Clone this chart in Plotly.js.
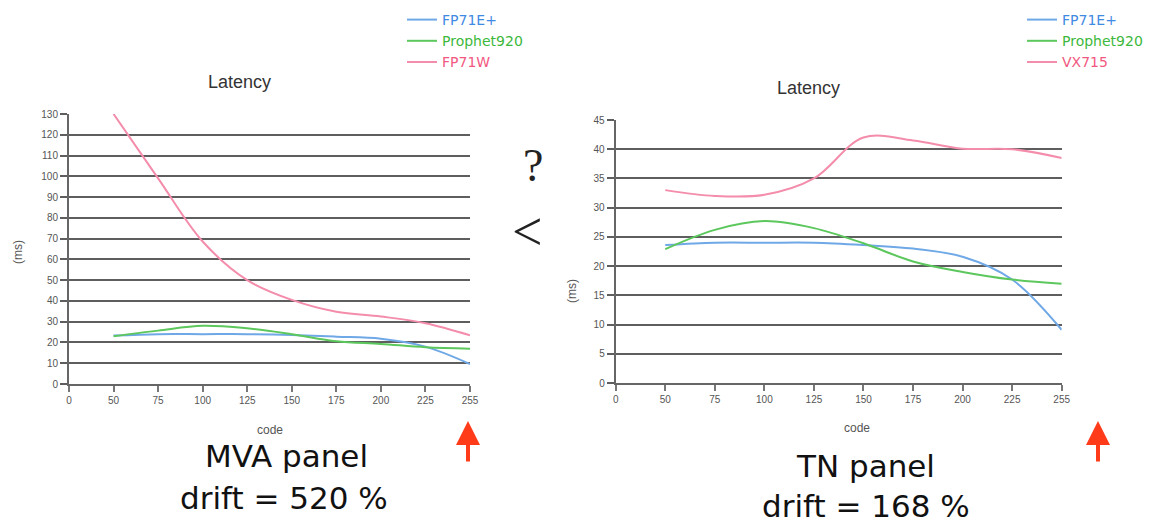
<!DOCTYPE html>
<html><head><meta charset="utf-8">
<script src="https://cdn.plot.ly/plotly-3.0.1.min.js"></script>
<style>html,body{margin:0;padding:0;background:#fff;}#c{width:1174px;height:524px;}</style>
</head><body><div id="c"></div>
<script>
const codes = ['0','50','75','100','125','150','175','200','225','255'];
const seriesMVA = ['FP71E+','Prophet920','FP71W'];
const seriesTN = ['FP71E+','Prophet920','VX715'];
const mvaFP71E = [null,23.3,24,24,24,23.6,22.8,21.8,18,9.6];
const mvaProphet = [null,23,25.7,28,26.8,24,20.6,19.3,17.7,17];
const mvaFP71W = [null,130,99,68.6,50,40.5,34.8,32.5,29.3,23.5];
const tnFP71E = [null,23.6,24,24,24,23.6,23,21.6,17.7,9.1];
const tnProphet = [null,22.9,26.2,27.7,26.5,23.9,20.8,19,17.7,17];
const tnVX715 = [null,33,32,32.2,35,42,41.5,40.1,40,38.5];

const lineCols = ['#6fa8e6','#5cc75c','#f48cab'];
const textCols = ['#3f8ae2','#3cb83c','#f2577f'];
function nm(s,i){return '<span style="color:'+textCols[i]+'">'+s+'</span>';}

const traces = [];
[mvaFP71E,mvaProphet,mvaFP71W].forEach((y,i)=>traces.push({x:codes,y:y,type:'scatter',mode:'lines',
  line:{color:lineCols[i],width:2,shape:'spline',smoothing:1},name:nm(seriesMVA[i],i),xaxis:'x',yaxis:'y',legend:'legend'}));
[tnFP71E,tnProphet,tnVX715].forEach((y,i)=>traces.push({x:codes,y:y,type:'scatter',mode:'lines',
  line:{color:lineCols[i],width:2,shape:'spline',smoothing:1},name:nm(seriesTN[i],i),xaxis:'x2',yaxis:'y2',legend:'legend2'}));

const W=1174,H=524;
const px=v=>v/W, py=v=>(H-v)/H;
const gridC='#5e5e5e', tickF={family:'Liberation Sans, Arial, sans-serif',size:10,color:'#555'};
function xax(d,anchor){return {domain:d,anchor:anchor,type:'category',range:[0,9],showgrid:false,zeroline:false,
  showline:true,linecolor:'#666',linewidth:2,ticks:'outside',ticklen:6,tickcolor:'#777',tickwidth:2,tickfont:tickF,
  fixedrange:true};}
function yax(d,anchor,max,dt){return {domain:d,anchor:anchor,range:[0,max],dtick:dt,tick0:0,showgrid:true,gridcolor:gridC,gridwidth:2,
  zeroline:false,showline:true,linecolor:'#666',linewidth:2,ticks:'outside',ticklen:7,tickcolor:gridC,tickwidth:2,tickfont:tickF};}

const legendBase={bgcolor:'rgba(0,0,0,0)',font:{family:'DejaVu Sans, Verdana, sans-serif',size:14},
  tracegroupgap:0,itemwidth:30,xanchor:'left',yanchor:'top'};

const bigF={family:'DejaVu Sans, Verdana, sans-serif',size:31,color:'#111'};
function ann(text,x,y,font,extra){return Object.assign({text:text,x:px(x),y:py(y),xref:'paper',yref:'paper',showarrow:false,
  xanchor:'center',yanchor:'middle',font:font},extra||{});}
const labF=s=>({family:'Liberation Sans, Arial, sans-serif',size:s,color:'#555'});
const annotations=[
 ann('Latency',239,82,{family:'Liberation Sans, Arial, sans-serif',size:18,color:'#333'}),
 ann('Latency',808,88,{family:'Liberation Sans, Arial, sans-serif',size:18,color:'#333'}),
 ann('(ms)',18,252,labF(12),{textangle:-90}),
 ann('(ms)',572,291,labF(12),{textangle:-90}),
 ann('code',270,430,labF(12)),
 ann('code',857,428,labF(12)),
 ann('MVA panel',286,456,bigF),
 ann('drift = 520 %',284,498,bigF),
 ann('TN panel',865,466,bigF),
 ann('drift = 168 %',866,506,bigF),
 ann('?',533,165,{family:'Liberation Serif, Times New Roman, serif',size:46,color:'#222'}),
 ann('<',527,232,{family:'Liberation Serif, Times New Roman, serif',size:54,color:'#222'}),
 {text:'',x:px(468),y:py(421),xref:'paper',yref:'paper',showarrow:true,ax:0,ay:42,arrowcolor:'#ff3b1a',arrowwidth:4,arrowhead:2,arrowsize:1.2},
 {text:'',x:px(1098),y:py(421),xref:'paper',yref:'paper',showarrow:true,ax:0,ay:42,arrowcolor:'#ff3b1a',arrowwidth:4,arrowhead:2,arrowsize:1.2}
];

const layout={width:W,height:H,margin:{l:0,r:0,t:0,b:0},paper_bgcolor:'#fff',plot_bgcolor:'rgba(0,0,0,0)',
  xaxis:xax([px(69),px(470)],'y'), yaxis:yax([py(384),py(114)],'x',130,10),
  xaxis2:xax([px(615.7),px(1061.7)],'y2'), yaxis2:yax([py(383),py(120)],'x2',45,5),
  legend:Object.assign({},legendBase,{x:px(402),y:py(4)}),
  legend2:Object.assign({},legendBase,{x:px(1022),y:py(4)}),
  showlegend:true, annotations:annotations};

Plotly.newPlot('c',traces,layout,{displayModeBar:false,staticPlot:true});
</script></body></html>
